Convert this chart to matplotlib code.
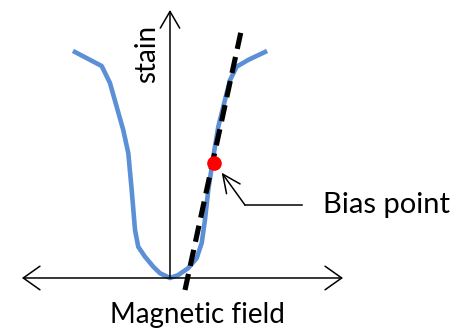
import matplotlib
matplotlib.use("Agg")
import matplotlib.pyplot as plt

# strain vs magnetic field (arbitrary units)
field = [-1.0, -0.719, -0.632, -0.492, -0.439, -0.403, -0.368, -0.334, -0.263,
         -0.176, -0.105, 0.0, 0.087, 0.193, 0.281, 0.334, 0.368, 0.403,
         0.456, 0.508, 0.561, 0.632, 0.702, 0.824, 1.0]
strain = [1.0, 0.938, 0.863, 0.655, 0.553, 0.389, 0.212, 0.138, 0.094,
          0.050, 0.021, 0.0, 0.013, 0.044, 0.088, 0.155, 0.257, 0.389,
          0.537, 0.669, 0.758, 0.876, 0.935, 0.965, 1.0]

# tangent line through the bias point
tangent_field = [0.158, 0.758]
tangent_strain = [-0.053, 1.111]
bias_field = 0.466
bias_strain = 0.510

# annotation leader: text end -> elbow -> arrow tip
leader_field = [1.389, 0.789]
leader_strain = [0.323, 0.323]
leader_tip = (0.544, 0.466)

plt.rcParams['font.family'] = ['Lato', 'DejaVu Sans']

fig = plt.figure(figsize=(4.54, 3.29), dpi=100)
ax = fig.add_axes([0, 0, 1, 1])
ax.set_xlim(-1.789, 2.989)
ax.set_ylim(-0.2257, 1.230)
ax.axis('off')

# axes with open arrow heads
ax.annotate('', xy=(-1.558, 0), xytext=(1.821, 0),
            arrowprops=dict(arrowstyle='<->,head_length=1.2,head_width=0.85',
                            lw=1.1, color='black', shrinkA=0, shrinkB=0))
ax.annotate('', xy=(0, 1.186), xytext=(0, 0),
            arrowprops=dict(arrowstyle='->,head_length=1.2,head_width=0.7',
                            lw=1.1, color='black', shrinkA=0, shrinkB=0))

ax.plot(field, strain, color='#5B8FD6', lw=3.3, solid_joinstyle='round', zorder=2)
ax.plot(tangent_field, tangent_strain, color='black', lw=3.7,
        dashes=(3.2, 1.6), zorder=3)
ax.plot([bias_field], [bias_strain], 'o', color='#FF0000', ms=9.5, zorder=4)

ax.plot(leader_field, leader_strain, color='black', lw=1.1)
ax.annotate('', xy=leader_tip, xytext=(leader_field[1], leader_strain[1]),
            arrowprops=dict(arrowstyle='->,head_length=1.3,head_width=0.6',
                            lw=1.1, color='black', shrinkA=0, shrinkB=0))

ax.text(1.61, 0.323, 'Bias point', fontsize=21, ha='left', va='center')
ax.text(0.29, -0.165, 'Magnetic field', fontsize=20, ha='center', va='center')
ax.text(-0.24, 0.99, 'stain', fontsize=20, rotation=90, ha='center', va='center')

fig.savefig('out.png', dpi=100)
